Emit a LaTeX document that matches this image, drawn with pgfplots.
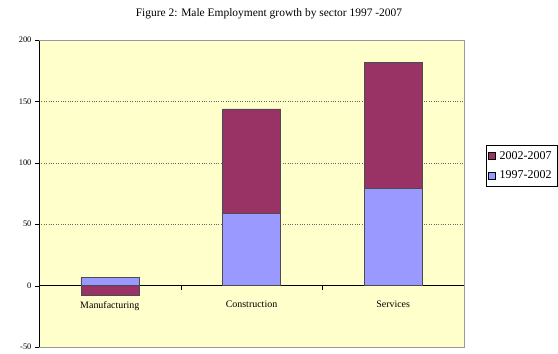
\documentclass[border=0pt]{standalone}
\usepackage{pgfplots}
\pgfplotsset{compat=1.18}
\usepackage{fontspec}
\setmainfont{Liberation Serif}

\definecolor{barPurple}{HTML}{993366}
\definecolor{barBlue}{HTML}{9999FF}
\definecolor{plotBg}{HTML}{FFFFCC}
\definecolor{frameGray}{HTML}{9A9A9A}

\begin{document}
\begin{tikzpicture}
\begin{axis}[
    name=ax,
    at={(0,0)}, anchor=south west,
    scale only axis,
    width=425bp, height=307bp,
    xmin=-0.5, xmax=2.5,
    ymin=-50, ymax=200,
    axis x line=middle,
    axis y line=left,
    every inner x axis line/.append style={-, black, line width=0.8pt},
    y axis line style={-, black, line width=0.8pt},
    axis background/.style={fill=plotBg},
    xtick={0,1,2},
    xticklabels={Manufacturing, Construction, Services},
    major x tick style={draw=none},
    minor xtick={0.5,1.5,2.5},
    minor x tick style={black},
    minor tick length=4bp,
    x tick label style={font=\fontsize{10}{12}\selectfont, yshift=-8bp},
    ytick={-50,0,50,100,150,200},
    y tick label style={font=\fontsize{8.5}{10}\selectfont},
    /pgf/number format/assume math mode=true,
    ytick style={black},
    major tick length=4bp,
    tick align=outside,
    ymajorgrids,
    grid style={dotted, black!60, line width=0.6pt},
    ybar stacked,
    bar width=0.41,
    title={Figure 2: Male Employment growth by sector 1997 -2007},
    title style={at={(0.541,1)}, anchor=base, yshift=18bp, font=\fontsize{11.5}{13}\selectfont},
    legend style={at={(1.052,0.658)}, anchor=north west, draw=black,
        font=\fontsize{12}{14}\selectfont, inner sep=2bp, row sep=2bp,
        nodes={inner sep=4bp}},
    legend cell align=left,
    reverse legend,
    legend image code/.code={\draw[#1, draw=black] (0bp,-3.5bp) rectangle (7bp,3.5bp);},
    clip=false,
]
% 1997-2002 change, thousands
\addplot[fill=barBlue, draw=black!70] coordinates {(0,7) (1,59) (2,79)};
% 2002-2007 change stacked above it
\addplot[fill=barPurple, draw=black!70] coordinates {(0,0) (1,85) (2,103)};
% manufacturing fell 2002-2007: drawn below the zero line
\addplot[fill=barPurple, draw=black!70, stack plots=false, forget plot] coordinates {(0,-8)};
\legend{1997-2002, 2002-2007}
\end{axis}
% plot-area frame on the top, right and bottom
\draw[frameGray, line width=0.6pt] (ax.south west) -- (ax.south east) -- (ax.north east) -- (ax.north west);
\path[use as bounding box] ([shift={(-39bp,-5bp)}]ax.south west) rectangle ++(558bp,352bp);
\end{tikzpicture}
\end{document}
